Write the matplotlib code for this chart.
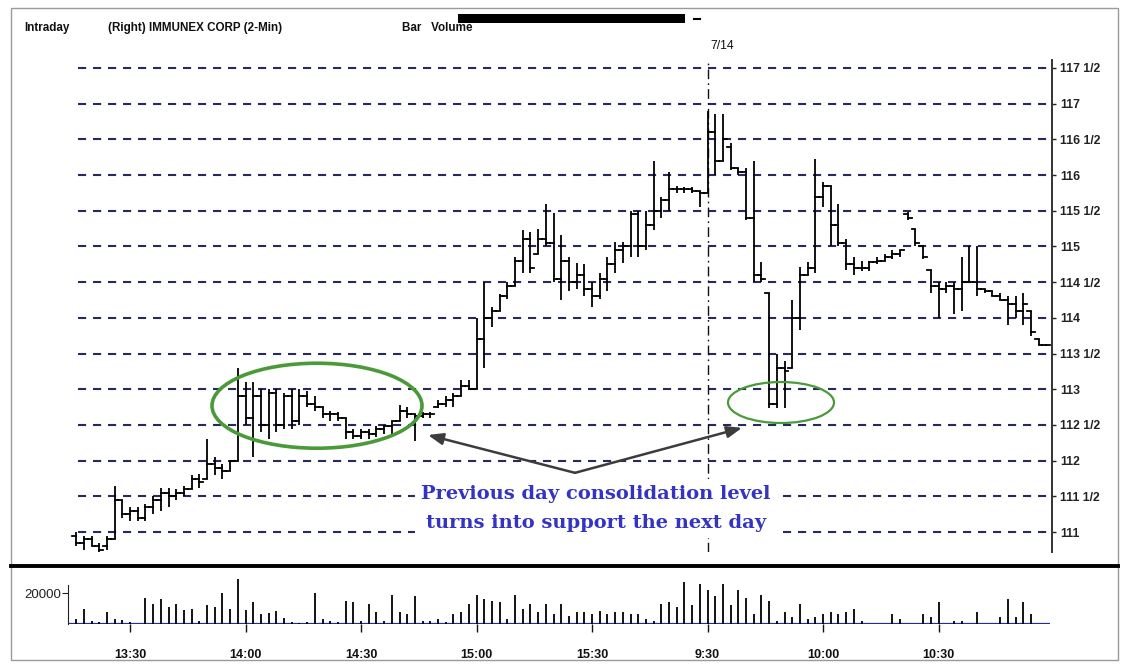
import matplotlib
matplotlib.use("Agg")
import matplotlib.pyplot as plt
from matplotlib.lines import Line2D
from matplotlib.patches import Ellipse, Rectangle

W, H = 1130, 665

# bar index 0 = 13:30 on day one, one bar every 2 minutes, 75 = 9:30 on 7/14
first_bar = -7

opens = [
    110.95, 110.85, 110.9, 110.8, 110.8, 110.9, 111.45, 111.25, 111.3, 111.2,
    111.35, 111.45, 111.55, 111.5, 111.55, 111.6, 111.75, 111.75, 111.95, 111.9,
    111.85, 112.0, 112.9, 112.6, 112.9, 112.5, 112.95, 112.5, 112.9, 112.55,
    112.9, 112.8, 112.75, 112.65, 112.65, 112.6, 112.4, 112.35, 112.4, 112.38,
    112.45, 112.48, 112.55, 112.7, 112.65, 112.62, 112.65, 112.75, 112.8, 112.85,
    112.9, 113.05, 113.0, 113.7, 114.0, 114.1, 114.3, 114.45, 114.8, 115.1,
    114.9, 115.1, 115.05, 114.55, 114.8, 114.5, 114.6, 114.4, 114.3, 114.55,
    114.75, 114.95, 115.0, 115.45, 115.0, 115.3, 115.5, 115.65, 115.8, 115.8,
    115.8, 115.78, 115.75, 116.6, 116.2, 116.4, 116.1, 116.05, 115.4, 114.6,
    114.35, 112.8, 113.3, 113.3, 114.0, 114.6, 114.7, 115.7, 115.85, 115.3,
    115.05, 114.75, 114.7, 114.7, 114.78, 114.8, 114.85, 114.9, 115.45, 115.25,
    115.0, 114.67, 114.45, 114.4, 114.45, 114.4, 114.5, 114.5, 114.4, 114.38,
    114.3, 114.25, 114.2, 114.1, 114.1, 113.7, 113.62,
]
highs = [
    111.0, 110.95, 110.95, 110.85, 110.95, 111.65, 111.45, 111.35, 111.35, 111.4,
    111.5, 111.62, 111.62, 111.6, 111.65, 111.8, 111.82, 112.3, 112.05, 111.95,
    112.0, 113.3, 113.1, 113.1, 113.0, 113.0, 113.0, 112.95, 113.0, 113.0,
    112.97, 112.9, 112.75, 112.7, 112.68, 112.6, 112.45, 112.45, 112.45, 112.48,
    112.5, 112.55, 112.78, 112.75, 112.65, 112.68, 112.68, 112.85, 112.9, 112.95,
    113.13, 113.13, 114.0, 114.5, 114.15, 114.34, 114.5, 114.85, 115.23, 115.2,
    115.25, 115.6, 115.47, 115.16, 114.85, 114.77, 114.75, 114.5, 114.63, 114.85,
    115.06, 115.06, 115.5, 115.5, 115.5, 116.2, 115.7, 116.05, 115.85, 115.83,
    115.83, 115.78, 116.9, 116.85, 116.85, 116.45, 116.1, 116.1, 116.2, 114.78,
    114.35, 113.5, 113.4, 114.25, 114.71, 114.78, 116.23, 115.9, 115.85, 115.6,
    115.1, 114.85, 114.8, 114.8, 114.85, 114.9, 114.95, 114.95, 115.48, 115.25,
    115.0, 114.67, 114.5, 114.5, 114.5, 114.85, 115.0, 115.0, 114.4, 114.38,
    114.35, 114.3, 114.3, 114.35, 114.1, 113.7, 113.62,
]
lows = [
    110.8, 110.75, 110.8, 110.72, 110.75, 110.9, 111.2, 111.15, 111.15, 111.15,
    111.25, 111.3, 111.35, 111.45, 111.5, 111.6, 111.62, 111.75, 111.8, 111.75,
    111.85, 112.0, 112.5, 112.05, 112.4, 112.3, 112.4, 112.45, 112.45, 112.5,
    112.75, 112.7, 112.6, 112.55, 112.55, 112.3, 112.3, 112.3, 112.3, 112.33,
    112.38, 112.35, 112.55, 112.6, 112.28, 112.6, 112.6, 112.74, 112.75, 112.75,
    112.9, 113.0, 113.0, 113.3, 113.87, 114.1, 114.27, 114.45, 114.63, 114.63,
    114.9, 115.0, 114.5, 114.25, 114.38, 114.4, 114.3, 114.15, 114.27, 114.38,
    114.63, 114.77, 114.85, 114.85, 114.95, 115.23, 115.4, 115.5, 115.75, 115.75,
    115.75, 115.55, 115.75, 116.0, 116.2, 116.07, 116.0, 115.37, 114.5, 114.5,
    112.74, 112.74, 112.74, 113.3, 113.83, 114.6, 114.63, 115.55, 115.0, 115.0,
    114.67, 114.6, 114.65, 114.65, 114.75, 114.8, 114.82, 114.85, 115.37, 115.0,
    114.83, 114.35, 114.0, 114.35, 114.05, 114.1, 114.5, 114.3, 114.35, 114.3,
    114.25, 113.9, 114.0, 113.9, 113.75, 113.62, 113.62,
]
closes = [
    110.85, 110.9, 110.8, 110.75, 110.9, 111.45, 111.25, 111.3, 111.2, 111.35,
    111.45, 111.55, 111.5, 111.55, 111.6, 111.75, 111.7, 111.95, 111.9, 111.85,
    112.0, 112.9, 112.6, 112.9, 112.5, 112.95, 112.5, 112.9, 112.55, 112.9,
    112.8, 112.75, 112.65, 112.65, 112.6, 112.4, 112.35, 112.4, 112.38, 112.45,
    112.48, 112.55, 112.7, 112.65, 112.62, 112.65, 112.65, 112.8, 112.85, 112.9,
    113.05, 113.0, 113.7, 114.0, 114.1, 114.3, 114.45, 114.8, 115.1, 114.7,
    115.1, 115.05, 114.55, 114.8, 114.5, 114.6, 114.4, 114.3, 114.55, 114.75,
    114.95, 115.0, 115.45, 115.0, 115.3, 115.5, 115.65, 115.8, 115.8, 115.8,
    115.78, 115.75, 116.6, 116.2, 116.5, 116.1, 116.05, 115.4, 114.6, 114.55,
    112.8, 113.3, 113.25, 114.0, 114.6, 114.7, 115.7, 115.85, 115.3, 115.05,
    114.75, 114.7, 114.7, 114.78, 114.8, 114.85, 114.9, 114.95, 115.4, 115.05,
    114.85, 114.45, 114.4, 114.45, 114.4, 114.5, 114.5, 114.4, 114.38, 114.3,
    114.25, 114.2, 114.1, 114.2, 113.8, 113.62, 113.62,
]
# shares, in thousands
volume_k = [
    3, 10, 2, 1, 7.5, 3, 2.5, 1, 0, 17,
    13, 16, 11, 13, 9, 10, 2, 12, 11, 20,
    10, 29, 9, 14, 6.5, 7, 8.5, 4, 1, 0.5,
    1, 20, 3, 2, 1, 15, 14, 2, 13, 7.5,
    2, 19, 7.5, 6.5, 18, 2, 2, 3, 1, 6.5,
    8, 13, 19, 16, 15, 14, 3, 19, 10, 13,
    8, 13, 6.5, 13, 5, 8, 8, 6.5, 8.5, 6.5,
    8, 7.5, 6.5, 6.5, 3, 2, 13, 14, 11, 27,
    12, 26, 22, 18, 26, 12, 22, 17, 6.5, 19,
    15, 2, 8, 4.5, 13, 3, 4.5, 6.5, 8, 6.5,
    8, 10, 2, 0, 0, 0, 6.5, 3, 0, 0,
    6.5, 4.5, 14, 0, 2, 2, 0, 7.5, 0, 0,
    4.5, 16, 4.5, 14, 6.5, 0, 0,
]

price_ticks = [111, 111.5, 112, 112.5, 113, 113.5, 114, 114.5, 115, 115.5,
               116, 116.5, 117, 117.5]
price_labels = ["111", "111 1/2", "112", "112 1/2", "113", "113 1/2", "114",
                "114 1/2", "115", "115 1/2", "116", "116 1/2", "117", "117 1/2"]
time_ticks = [0, 15, 30, 45, 60, 75, 90, 105]
time_labels = ["13:30", "14:00", "14:30", "15:00", "15:30", "9:30", "10:00", "10:30"]
day_break = 75

GRID = "#262a5c"
GREEN = "#4a9a3a"
NOTE = "#3434c4"
SANS = ["Liberation Sans", "DejaVu Sans"]

n_bars = len(closes)
assert all(len(a) == n_bars for a in (opens, highs, lows, volume_k))
bars = list(range(first_bar, first_bar + n_bars))

# pixel layout: bar i sits at x = 130 + 7.7 * i, price p at y = 68 + (117.5 - p) * 71.4
PX_BAR, X0 = 7.7, 130


def frac(x, y):
    return x / W, 1 - y / H


def bar_at(x):
    return (x - X0) / PX_BAR


fig = plt.figure(figsize=(W / 100, H / 100), dpi=100)
fig.patch.set_facecolor("white")

# ---- price panel
left, right, top, bottom = 65, 1052, 60, 552
ax = fig.add_axes([left / W, 1 - bottom / H, (right - left) / W, (bottom - top) / H])
ax.set_xlim(bar_at(left), bar_at(right))
ax.set_ylim(117.5 - (bottom - 68) / 71.4, 117.5 + (68 - top) / 71.4)
ax.set_facecolor("none")
for side in ("left", "top", "bottom"):
    ax.spines[side].set_visible(False)
ax.spines["right"].set_color("#333333")
ax.spines["right"].set_linewidth(1.4)
ax.yaxis.tick_right()
ax.set_yticks(price_ticks, price_labels, fontsize=8.8, fontweight="bold", family=SANS)
ax.tick_params(axis="y", direction="out", length=3, width=1, pad=3, colors="#222222")
ax.set_xticks([])

ax.hlines(price_ticks, bar_at(78), bar_at(right), colors=GRID, linewidth=1.5,
          linestyles=[(0, (3.9, 3.3))], zorder=1)
ax.axvline(day_break, color="#111111", linewidth=1.0,
           linestyle=(0, (7, 3, 1.2, 3)), zorder=1)

for i, o, h, l, c in zip(bars, opens, highs, lows, closes):
    ax.plot([i, i], [l, h], color="black", linewidth=1.3, zorder=3,
            solid_capstyle="butt", clip_on=False)
    ax.plot([i - 0.5, i], [o, o], color="black", linewidth=1.3, zorder=3, clip_on=False)
    ax.plot([i, i + 0.5], [c, c], color="black", linewidth=1.3, zorder=3, clip_on=False)

ax.add_patch(Ellipse((bar_at(317), 112.77), 210 / PX_BAR, 85 / 71.4, fill=False,
                     edgecolor=GREEN, linewidth=2.6, zorder=4))
ax.add_patch(Ellipse((bar_at(781), 112.815), 106 / PX_BAR, 41 / 71.4, fill=False,
                     edgecolor=GREEN, linewidth=1.6, zorder=4))

vertex = (bar_at(575), 111.83)
for tip in [(bar_at(428), 112.36), (bar_at(742), 112.46)]:
    ax.annotate("", xy=tip, xytext=vertex, zorder=5,
                arrowprops=dict(arrowstyle="-|>,head_length=0.9,head_width=0.35",
                                color="#3c3c3c", linewidth=1.8, shrinkA=0, shrinkB=0))

ax.text(bar_at(596), 111.33, "Previous day consolidation level\nturns into support the next day",
        ha="center", va="center", color=NOTE, fontsize=14, fontweight="bold",
        family="DejaVu Serif", linespacing=1.75, zorder=6,
        bbox=dict(boxstyle="square,pad=0.3", facecolor="white", edgecolor="none"))

# ---- volume panel
vleft, vtop, vbottom = 68, 572, 624
vax = fig.add_axes([vleft / W, 1 - vbottom / H, (right - vleft) / W, (vbottom - vtop) / H])
vax.set_xlim(bar_at(vleft), bar_at(right))
vax.set_ylim(0, 20 * (vbottom - vtop) / 31)
vax.set_facecolor("none")
for side in ("right", "top", "bottom"):
    vax.spines[side].set_visible(False)
vax.spines["left"].set_bounds(0, 25)
vax.spines["left"].set_color("#222222")
vax.vlines(bars, 0, volume_k, colors="black", linewidth=1.3, zorder=3)
vax.hlines(0, bar_at(vleft), bar_at(1050), colors="#2a2aa0", linewidth=1.6, zorder=2)
vax.set_yticks([20], ["20000"], fontsize=9.5, family=SANS)
vax.tick_params(axis="y", direction="out", length=4, pad=1, colors="#222222")
vax.set_xticks(time_ticks, time_labels, fontsize=9, fontweight="bold", family=SANS)
vax.tick_params(axis="x", direction="out", length=6, width=1, pad=12, colors="#111111")

# ---- frame and header
fig.add_artist(Rectangle(frac(11, 660), 1107 / W, 652 / H, fill=False,
                         edgecolor="#9a9a9a", linewidth=1.0))
fig.add_artist(Line2D([11 / W, 1118 / W], [1 - 566 / H] * 2, color="black", linewidth=2.8))

head = dict(fontsize=8.4, fontweight="bold", family=SANS, va="center", color="#111111")
fig.text(*frac(24, 28), "Intraday", **head)
fig.text(*frac(108, 28), "(Right) IMMUNEX CORP (2-Min)", **head)
fig.text(*frac(402, 28), "Bar   Volume", **head)
fig.text(*frac(710, 46), "7/14", fontsize=8.8, family=SANS, va="center", color="#111111")
# the redacted strip over the header
fig.add_artist(Rectangle(frac(458, 23), 227 / W, 9 / H, facecolor="black", edgecolor="none"))
fig.add_artist(Line2D([694 / W, 700 / W], [1 - 19 / H] * 2, color="black", linewidth=1.5))

fig.savefig("out.png", dpi=100)
